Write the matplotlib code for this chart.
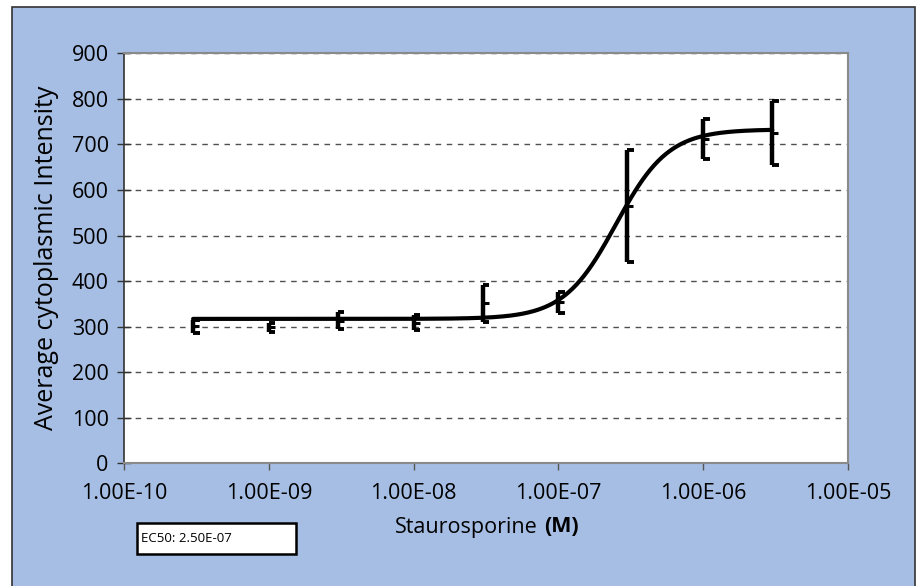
import numpy as np
import matplotlib
matplotlib.use('Agg')
import matplotlib.pyplot as plt
from matplotlib.patches import Rectangle

# dose response data
conc = [3e-10, 1e-9, 3e-9, 1e-8, 3e-8, 1e-7, 3e-7, 1e-6, 3e-6]
mean = [301, 299, 313, 309, 351, 353, 565, 711, 725]
err = [14, 10, 19, 16, 40, 24, 123, 44, 70]

# 4PL fit parameters
bottom = 317
top = 733
ec50 = 2.5e-7
hill = 2.4

yticks = [0, 100, 200, 300, 400, 500, 600, 700, 800, 900]
xticks = [1e-10, 1e-9, 1e-8, 1e-7, 1e-6, 1e-5]
xticklabels = ['1.00E-10', '1.00E-09', '1.00E-08', '1.00E-07', '1.00E-06', '1.00E-05']

plt.rcParams['font.family'] = ['Open Sans', 'DejaVu Sans']

fig = plt.figure(figsize=(9.17, 5.86), dpi=100)
fig.patch.set_facecolor('white')
# blue panel with dark border
fig.patches.append(Rectangle((12/917, -0.05), (915-12)/917, 1.05 - 7/586,
                             transform=fig.transFigure, facecolor='#a6bee3',
                             edgecolor='#333333', lw=1.2, zorder=0))

ax = fig.add_axes([124/917, 1-463.3/586, (848-124)/917, (463.3-53.3)/586])
ax.set_zorder(2)
ax.set_facecolor('white')
ax.set_xscale('log')
ax.set_xlim(1e-10, 1e-5)
ax.set_ylim(0, 900)

# gridlines
for v in yticks[1:]:
    ax.axhline(v, color='#505050', lw=1, ls=(0, (4, 4)), zorder=1)

# fit curve
xf = np.logspace(np.log10(conc[0]), np.log10(conc[-1]), 300)
yf = bottom + (top - bottom) / (1 + (ec50 / xf) ** hill)
ax.plot(xf, yf, color='black', lw=3.0, zorder=3, solid_capstyle='round')

# error bars with right-side half caps
c = np.array(conc)
m = np.array(mean)
e = np.array(err)
ax.vlines(c, m - e, m + e, color='black', lw=3.2, zorder=4)
ax.hlines(m + e, c, c * 1.11, color='black', lw=2.8, zorder=4)
ax.hlines(m - e, c, c * 1.11, color='black', lw=2.8, zorder=4)
ax.hlines(m, c, c * 1.1, color='black', lw=2.2, zorder=4)

# axes styling
for s in ['top', 'right', 'bottom']:
    ax.spines[s].set_color('#8a8a8a')
    ax.spines[s].set_linewidth(1.5)
ax.spines['left'].set_color('#333333')
ax.spines['left'].set_linewidth(1.2)

ax.set_yticks(yticks)
ax.set_yticklabels([str(v) for v in yticks], fontsize=15.5)
ax.tick_params(axis='y', direction='inout', length=10, width=1, color='#333333', pad=6)
ax.set_xticks(xticks)
ax.set_xticklabels(xticklabels, fontsize=15.5)
ax.xaxis.set_minor_locator(matplotlib.ticker.NullLocator())
ax.tick_params(axis='x', direction='out', length=5, width=1, color='#555555', pad=9)

ax.set_ylabel('Average cytoplasmic Intensity', fontsize=18, labelpad=9)
fig.text(538/917, 1 - 527/586, 'Staurosporine', ha='right', va='center',
         fontsize=15.5, zorder=3)
fig.text(544/917, 1 - 527/586, '(M)', ha='left', va='center',
         fontsize=15.5, weight='bold', zorder=3)

# EC50 box
fig.patches.append(Rectangle((137/917, 1 - 554/586), (296-137)/917, 31/586,
                             transform=fig.transFigure, facecolor='white',
                             edgecolor='black', lw=1.8, zorder=1))
fig.text(141/917, 1 - 538/586, 'EC50: 2.50E-07', fontsize=9.5, ha='left', va='center',
         zorder=3)

fig.savefig('out.png', dpi=100)
